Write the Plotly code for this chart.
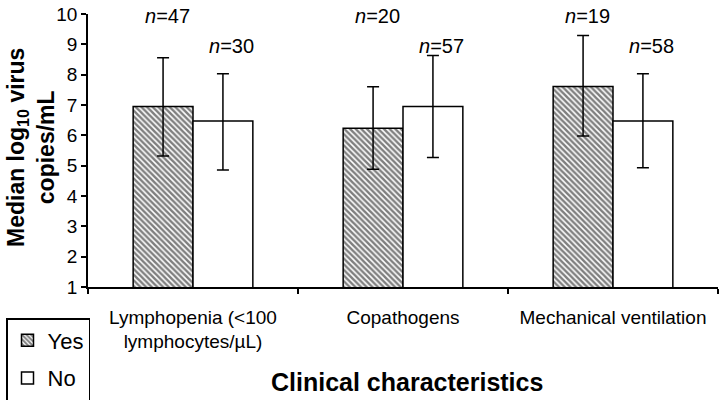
import plotly.graph_objects as go

categories = ["Lymphopenia (<100<br>lymphocytes/µL)", "Copathogens", "Mechanical ventilation"]
yes_values = [6.95, 6.23, 7.61]
yes_err_plus = [1.61, 1.37, 1.68]
yes_err_minus = [1.63, 1.35, 1.63]
no_values = [6.47, 6.95, 6.47]
no_err_plus = [1.56, 1.68, 1.56]
no_err_minus = [1.61, 1.68, 1.54]
yes_n = ["47", "20", "19"]
no_n = ["30", "57", "58"]
y_ticks = [1, 2, 3, 4, 5, 6, 7, 8, 9, 10]

FONT = "Liberation Sans, Arial, sans-serif"

W, H = 720, 400
L, T = 88, 14
PW, PH = 630, 273

fig = go.Figure()
fig.add_trace(go.Bar(
    name="Yes", x=categories, y=yes_values, base=0,
    marker=dict(color="white", line=dict(color="black", width=1.5),
                pattern=dict(shape="\\", fgcolor="black", bgcolor="white", size=4, solidity=0.62)),
    error_y=dict(type="data", symmetric=False, array=yes_err_plus, arrayminus=yes_err_minus,
                 color="black", thickness=1.5, width=6),
    legendgroup="a",
))
fig.add_trace(go.Bar(
    name="No", x=categories, y=no_values, base=0,
    marker=dict(color="white", line=dict(color="black", width=1.5)),
    error_y=dict(type="data", symmetric=False, array=no_err_plus, arrayminus=no_err_minus,
                 color="black", thickness=1.5, width=6),
    legendgroup="b",
))

annotations = []
for i, c in enumerate(categories):
    annotations.append(dict(x=c, xref="x", xshift=-26, y=9.93, yref="y", text="<i>n</i>=" + yes_n[i],
                            showarrow=False, font=dict(size=20, family=FONT, color="black"), yanchor="middle"))
    annotations.append(dict(x=c, xref="x", xshift=38, y=8.93, yref="y", text="<i>n</i>=" + no_n[i],
                            showarrow=False, font=dict(size=20, family=FONT, color="black"), yanchor="middle"))

annotations.append(dict(x=(31 - L) / PW, xref="paper", y=(T + PH - 148) / PH, yref="paper",
                        text="<b>Median log<sub>10</sub> virus<br>copies/mL</b>", textangle=-90,
                        showarrow=False, font=dict(size=23, family=FONT, color="black"),
                        xanchor="center", yanchor="middle"))
annotations.append(dict(x=(407 - L) / PW, xref="paper", y=(T + PH - 382) / PH, yref="paper",
                        text="<b>Clinical characteristics</b>", showarrow=False,
                        font=dict(size=25, family=FONT, color="black"), xanchor="center", yanchor="middle"))

fig.update_layout(
    width=W, height=H,
    margin=dict(l=L, r=W - L - PW, t=T, b=H - T - PH, autoexpand=False),
    paper_bgcolor="white", plot_bgcolor="white",
    barmode="group", bargap=0.43, bargroupgap=0,
    font=dict(family=FONT, color="black"),
    showlegend=True,
    legend=dict(xref="container", yref="container", x=6 / W, y=1 - 318 / H,
                xanchor="left", yanchor="top",
                bordercolor="black", borderwidth=1.5, bgcolor="white",
                font=dict(size=22, family=FONT, color="black"),
                traceorder="grouped", tracegroupgap=6, itemwidth=30),
    annotations=annotations,
    xaxis=dict(showline=True, linecolor="black", linewidth=1.5, ticks="outside", tickson="boundaries",
               ticklen=5, tickcolor="black", tickwidth=1.5, showgrid=False, automargin=False,
               ticklabelstandoff=12,
               tickfont=dict(size=19, family=FONT, color="black")),
    yaxis=dict(range=[1, 10], tickvals=y_ticks, showline=True, linecolor="black", linewidth=1.5,
               ticks="outside", ticklen=5, tickcolor="black", tickwidth=1.5, showgrid=False,
               zeroline=False, automargin=False, tickfont=dict(size=19, family=FONT, color="black")),
)

fig.write_html("out.html", config={"displayModeBar": False},
               post_script="document.body.style.margin='0';document.body.style.overflow='hidden';")
